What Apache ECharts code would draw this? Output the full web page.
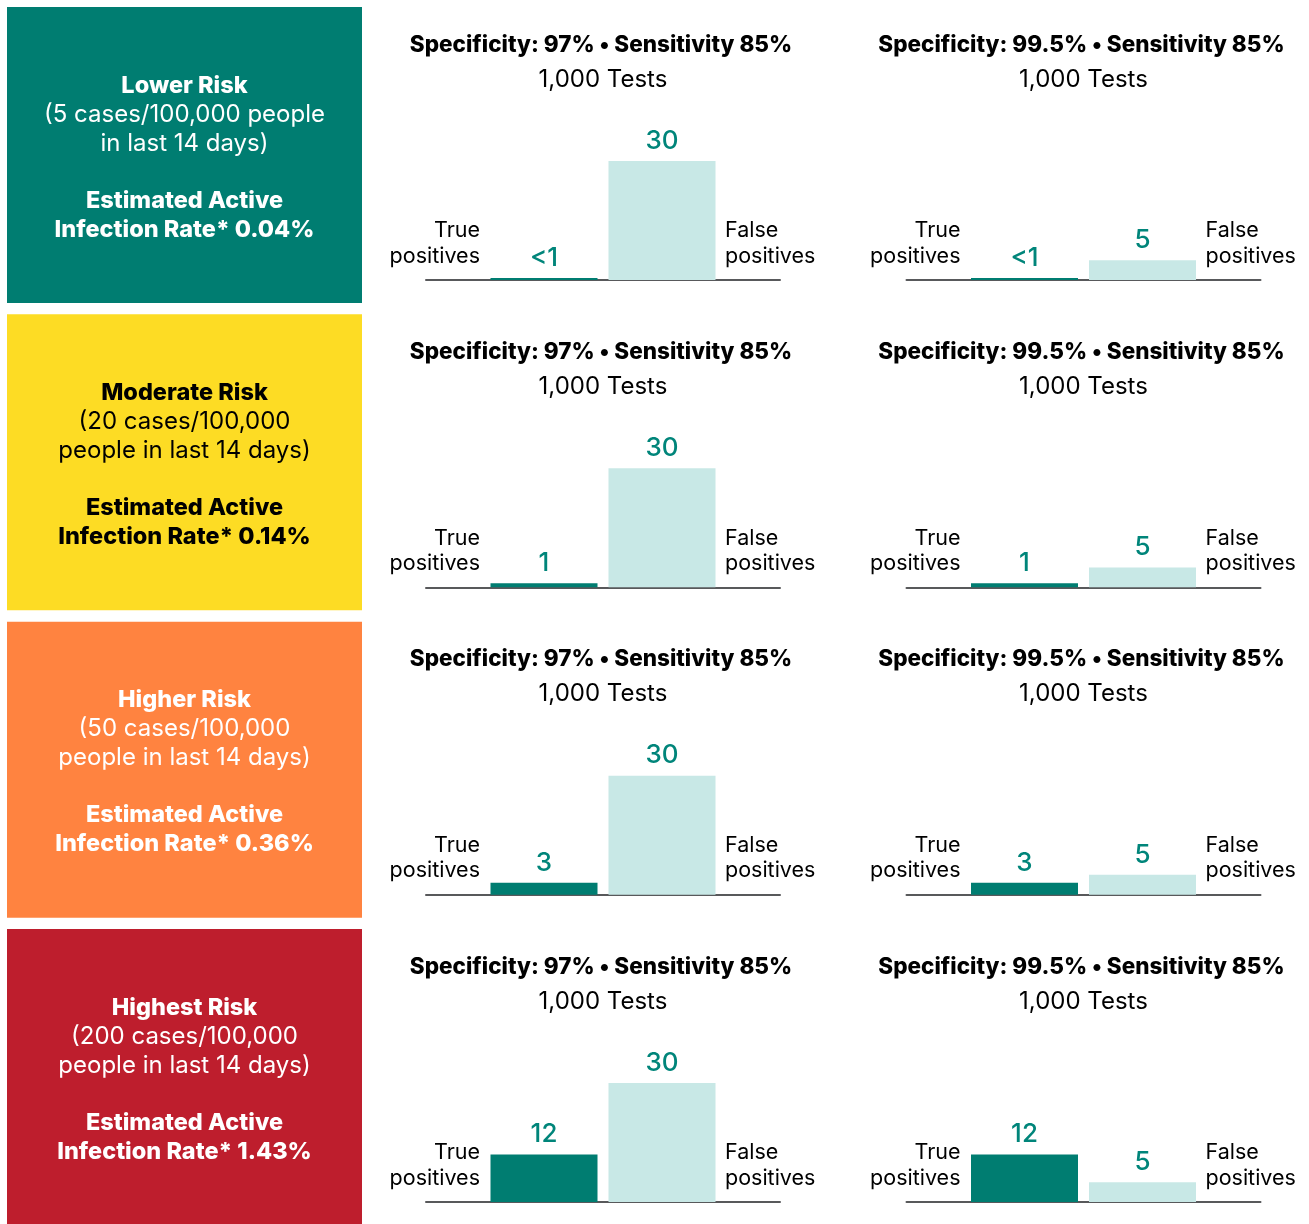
<!DOCTYPE html>
<html><head><meta charset="utf-8">
<script src="https://cdn.jsdelivr.net/npm/echarts@6/dist/echarts.min.js"></script>
<style>html,body{margin:0;padding:0;background:#fff}#c{width:1309px;height:1224px}</style>
</head><body><div id="c"></div>
<script>
// ---- data ----
const riskNames = ['Lower Risk', 'Moderate Risk', 'Higher Risk', 'Highest Risk'];
const caseLines = [
  ['(5 cases/100,000 people', 'in last 14 days)'],
  ['(20 cases/100,000', 'people in last 14 days)'],
  ['(50 cases/100,000', 'people in last 14 days)'],
  ['(200 cases/100,000', 'people in last 14 days)']
];
const infectionRates = ['0.04%', '0.14%', '0.36%', '1.43%'];
const boxColors = ['#007D71', '#FDDC24', '#FF8340', '#BE1E2D'];
const boxTextColors = ['#ffffff', '#000000', '#ffffff', '#ffffff'];
const specificities = ['97%', '99.5%'];
const sensitivity = '85%';
const testsLabel = '1,000 Tests';
const categories = ['', 'True positives', 'False positives', ''];
const truePositives = [0.5, 1, 3, 12];          // bar heights
const truePositiveLabels = ['<1', '1', '3', '12'];
const falsePositives = [[30, 30, 30, 30], [5, 5, 5, 5]]; // by specificity column
const falsePositiveLabels = [['30', '30', '30', '30'], ['5', '5', '5', '5']];

const FONT = 'Inter, "Noto Sans", sans-serif';
const TEAL = '#007D71', LIGHT = '#C8E8E6', LABEL = '#00857A';

const rowStep = 307.33;
const colLeft = [426, 906.5];
const gridW = 354;

const grids = [], xAxes = [], yAxes = [], series = [], graphics = [];
function txt(x, y, text, font, fill, align, vAlign, extra) {
  return Object.assign({ type: 'text', x: x, y: y, style: Object.assign({ text: text, font: font, fill: fill, textAlign: align, textVerticalAlign: vAlign }, extra || {}) });
}
for (let r = 0; r < 4; r++) {
  const top = 7 + r * rowStep;
  // left box
  graphics.push({ type: 'rect', shape: { x: 7, y: top, width: 355, height: 296 }, style: { fill: boxColors[r] } });
  const cx = 184.5, tc = boxTextColors[r];
  graphics.push(txt(cx, top + 78.5, riskNames[r], '800 23.5px ' + FONT, tc, 'center', 'middle'));
  graphics.push(txt(cx, top + 107.5, caseLines[r][0], '400 24px ' + FONT, tc, 'center', 'middle'));
  graphics.push(txt(cx, top + 136.5, caseLines[r][1], '400 24px ' + FONT, tc, 'center', 'middle'));
  graphics.push(txt(cx, top + 193.5, 'Estimated Active', '800 23.5px ' + FONT, tc, 'center', 'middle'));
  graphics.push(txt(cx, top + 222.5, 'Infection Rate* ' + infectionRates[r], '800 23.5px ' + FONT, tc, 'center', 'middle'));

  for (let c = 0; c < 2; c++) {
    const gi = grids.length;
    const gTop = 161 + r * rowStep;
    grids.push({ left: colLeft[c], top: gTop, width: gridW, height: 119 });
    xAxes.push({ type: 'category', gridIndex: gi, data: categories, boundaryGap: false,
      axisLine: { lineStyle: { color: '#58595B', width: 2 } }, axisTick: { show: false }, axisLabel: { show: false }, splitLine: { show: false } });
    yAxes.push({ type: 'value', gridIndex: gi, min: 0, max: 30, show: false, splitLine: { show: false } });
    const tpLabel = truePositiveLabels[r], fpLabel = falsePositiveLabels[c][r];
    series.push({
      type: 'bar', xAxisIndex: gi, yAxisIndex: gi, barWidth: 107, z: 1,
      data: [null,
        { value: truePositives[r], itemStyle: { color: TEAL } },
        { value: falsePositives[c][r], itemStyle: { color: LIGHT } },
        null],
      label: { show: true, position: 'top', distance: 7, color: LABEL, fontFamily: FONT, fontSize: 26, fontWeight: 500,
        formatter: p => p.dataIndex === 1 ? tpLabel : fpLabel },
      animation: false
    });
    const mid = colLeft[c] + gridW / 2 - 2;
    graphics.push(txt(mid, 45 + r * rowStep, 'Specificity: ' + specificities[c] + ' \u2022 Sensitivity ' + sensitivity, '800 22.5px ' + FONT, '#000', 'center', 'middle'));
    graphics.push(txt(mid + 2, 79.5 + r * rowStep, testsLabel, '400 24px ' + FONT, '#000', 'center', 'middle'));
    graphics.push(txt(colLeft[c] + 54, 218 + r * rowStep, 'True\npositives', '400 21.5px ' + FONT, '#000', 'right', 'top', { lineHeight: 25.5 }));
    graphics.push(txt(colLeft[c] + 299, 218 + r * rowStep, 'False\npositives', '400 21.5px ' + FONT, '#000', 'left', 'top', { lineHeight: 25.5 }));
  }
}

const chart = echarts.init(document.getElementById('c'), null, { renderer: 'canvas' });
chart.setOption({ animation: false, grid: grids, xAxis: xAxes, yAxis: yAxes, series: series, graphic: graphics });
</script></body></html>
